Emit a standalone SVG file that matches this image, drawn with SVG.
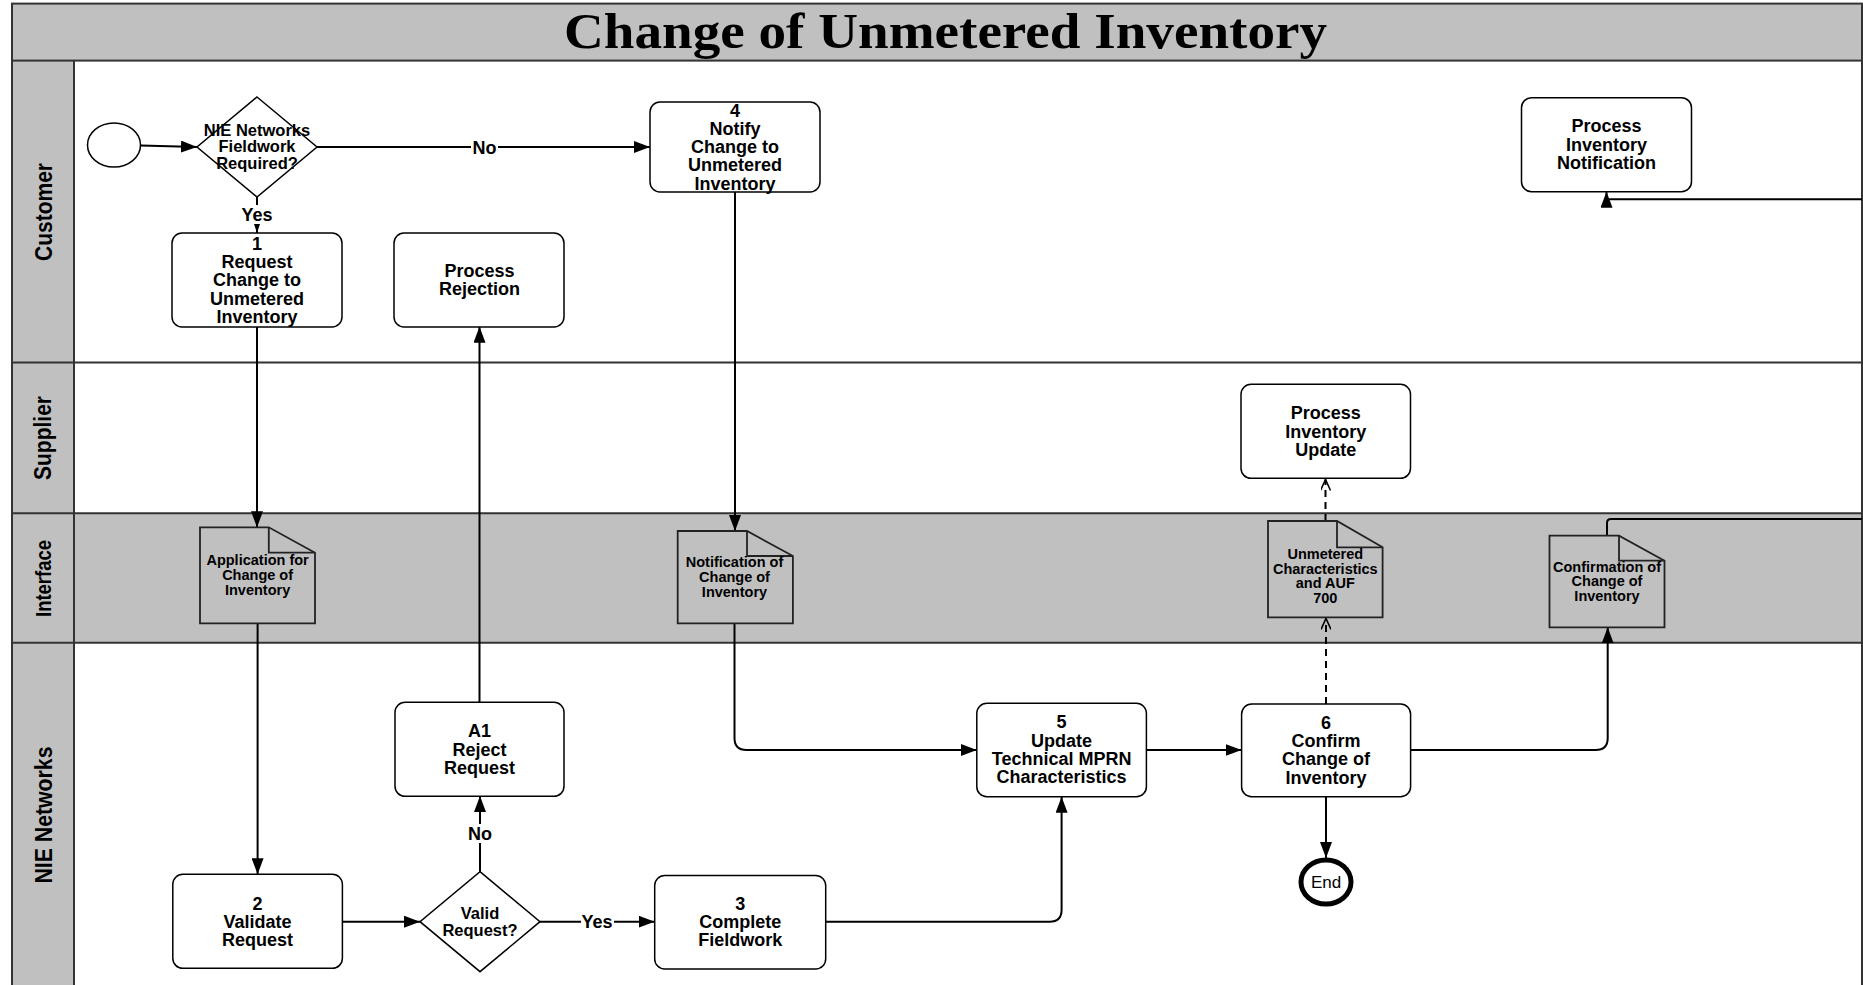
<svg xmlns="http://www.w3.org/2000/svg" width="1863" height="985" viewBox="0 0 1863 985">
<defs>
<style>
.lane{fill:#c0c0c0}
.border{fill:none;stroke:#333;stroke-width:2}
.box{fill:#fff;stroke:#000;stroke-width:1.5}
.doc{fill:#c0c0c0;stroke:#222;stroke-width:1.8;stroke-linejoin:miter}
.fold{fill:none;stroke:#222;stroke-width:1.8}
.t{font-family:"Liberation Sans",Arial,sans-serif;font-weight:bold;font-size:18px;text-anchor:middle;fill:#000}
.td{font-family:"Liberation Sans",Arial,sans-serif;font-weight:bold;font-size:16.5px;text-anchor:middle;fill:#000}
.tdoc{font-family:"Liberation Sans",Arial,sans-serif;font-weight:bold;font-size:14.5px;text-anchor:middle;fill:#000}
.tl{font-family:"Liberation Sans",Arial,sans-serif;font-weight:bold;font-size:24px;text-anchor:middle;fill:#000}
.title{font-family:"Liberation Serif","Times New Roman",serif;font-weight:bold;font-size:50px;text-anchor:middle;fill:#000}
.c{fill:none;stroke:#000;stroke-width:2}
.arr{marker-end:url(#ah)}
.dash{fill:none;stroke:#000;stroke-width:2;stroke-dasharray:7,5;marker-end:url(#oa)}
.lbg{fill:#fff}
</style>
<marker id="ah" markerUnits="userSpaceOnUse" viewBox="0 0 16 12" refX="16" refY="6" markerWidth="16" markerHeight="12" orient="auto">
<path d="M0,0 L16,6 L0,12 z" fill="#000"/>
</marker>
<marker id="ahs" markerUnits="userSpaceOnUse" viewBox="0 0 9 6" refX="9" refY="3" markerWidth="9" markerHeight="6" orient="auto">
<path d="M0,0 L9,3 L0,6 z" fill="#000"/>
</marker>
<marker id="oa" markerUnits="userSpaceOnUse" viewBox="0 0 12 10" refX="11" refY="5" markerWidth="12" markerHeight="10" orient="auto">
<path d="M0,0 L11,5 L0,10" fill="none" stroke="#000" stroke-width="1.6"/>
</marker>
</defs>

<g id="background">
<rect x="0" y="0" width="1863" height="985" fill="#fff"/>
<rect class="lane" x="12" y="3.6" width="1850" height="57"/>
<rect class="lane" x="12" y="60.6" width="62" height="930"/>
<rect class="lane" x="74" y="513.3" width="1788" height="129.5"/>
<rect class="border" x="12" y="3.6" width="1850" height="57"/>
<line class="border" x1="12" y1="60.6" x2="12" y2="990"/>
<line class="border" x1="1862" y1="60.6" x2="1862" y2="990"/>
<line class="border" x1="74" y1="60.6" x2="74" y2="990"/>
<line class="border" x1="12" y1="362.4" x2="1862" y2="362.4"/>
<line class="border" x1="12" y1="513.3" x2="1862" y2="513.3"/>
<line class="border" x1="12" y1="642.8" x2="1862" y2="642.8"/>
<text class="title" x="945.5" y="47.5" textLength="763" lengthAdjust="spacingAndGlyphs">Change of Unmetered Inventory</text>
</g>

<g id="lane-labels">
<text class="tl" transform="translate(52,212) rotate(-90)" textLength="98" lengthAdjust="spacingAndGlyphs">Customer</text>
<text class="tl" transform="translate(51,438) rotate(-90)" textLength="84" lengthAdjust="spacingAndGlyphs">Supplier</text>
<text class="tl" style="font-size:22px" transform="translate(51,578.5) rotate(-90)" textLength="77" lengthAdjust="spacingAndGlyphs">Interface</text>
<text class="tl" transform="translate(52,815) rotate(-90)" textLength="137" lengthAdjust="spacingAndGlyphs">NIE Networks</text>
</g>

<g id="connectors">
<path class="c arr" d="M140.8,145.5 L197,147"/>
<path class="c" d="M257,197 V233" marker-end="url(#ahs)"/>
<path class="c arr" d="M317,147 H650"/>
<path class="c arr" d="M257,326.7 V527.3"/>
<path class="c arr" d="M257.6,623.3 V874.3"/>
<path class="c arr" d="M342.4,921.7 H420"/>
<path class="c arr" d="M480,871.7 V796"/>
<path class="c arr" d="M540,921.7 H654.7"/>
<path class="c arr" d="M479.5,702.3 V326.7"/>
<path class="c arr" d="M735,191.7 V531"/>
<path class="c arr" d="M734.5,623.3 V738 Q734.5,750 746.5,750 H976.8"/>
<path class="c arr" d="M825.8,921.7 H1049.6 Q1061.6,921.7 1061.6,909.7 V796.7"/>
<path class="c arr" d="M1146.4,750 H1241.6"/>
<path class="c arr" d="M1326,796.7 V858"/>
<path class="dash" d="M1326,704 V618.5"/>
<path class="dash" d="M1325.5,521 V479.5"/>
<path class="c arr" d="M1410.4,750 H1595.7 Q1607.7,750 1607.7,738 V627.3"/>
<path class="c" d="M1607,535.7 V523 Q1607,519 1611,519 H1862"/>
<path class="c arr" d="M1862,199.3 H1606.5 V191.7"/>
<rect class="lbg" x="242" y="205" width="30" height="19"/>
<text class="t" x="257" y="221">Yes</text>
<rect class="lbg" x="471" y="138" width="27" height="19"/>
<text class="t" x="484.5" y="153.5">No</text>
<rect class="lbg" x="467" y="824" width="27" height="19"/>
<text class="t" x="480" y="839.5">No</text>
<rect class="lbg" x="581" y="912" width="33" height="19"/>
<text class="t" x="597" y="927.5">Yes</text>
</g>

<g id="start">
<ellipse cx="114" cy="145" rx="26.5" ry="22" fill="#fff" stroke="#000" stroke-width="1.5"/>
</g>

<g id="d-fieldwork">
<polygon class="box" points="257,97 317,147 257,197 197,147"/>
<text class="td"><tspan x="257" y="135.5">NIE Networks</tspan><tspan x="257" y="152">Fieldwork</tspan><tspan x="257" y="169">Required?</tspan></text>
</g>

<g id="n1">
<rect class="box" x="172" y="233" width="170" height="94" rx="10"/>
<text class="t"><tspan x="257" y="249.8">1</tspan><tspan x="257" y="268">Request</tspan><tspan x="257" y="286.3">Change to</tspan><tspan x="257" y="304.6">Unmetered</tspan><tspan x="257" y="323">Inventory</tspan></text>
</g>

<g id="n-process-rejection">
<rect class="box" x="394" y="233" width="170" height="94" rx="10"/>
<text class="t"><tspan x="479.5" y="276.5">Process</tspan><tspan x="479.5" y="295">Rejection</tspan></text>
</g>

<g id="n4">
<rect class="box" x="650" y="102" width="170" height="90" rx="10"/>
<text class="t"><tspan x="735" y="116.5">4</tspan><tspan x="735" y="134.5">Notify</tspan><tspan x="735" y="152.5">Change to</tspan><tspan x="735" y="171">Unmetered</tspan><tspan x="735" y="189.5">Inventory</tspan></text>
</g>

<g id="n-process-inventory-notification">
<rect class="box" x="1521.5" y="97.7" width="170" height="94" rx="10"/>
<text class="t"><tspan x="1606.5" y="132">Process</tspan><tspan x="1606.5" y="150.5">Inventory</tspan><tspan x="1606.5" y="169">Notification</tspan></text>
</g>

<g id="n-process-inventory-update">
<rect class="box" x="1241" y="384.3" width="169.5" height="94" rx="10"/>
<text class="t"><tspan x="1325.7" y="419">Process</tspan><tspan x="1325.7" y="437.5">Inventory</tspan><tspan x="1325.7" y="455.5">Update</tspan></text>
</g>

<g id="doc-application">
<path class="doc" d="M200,527.3 H268.8 L315,552.7 V623.3 H200 Z"/>
<path class="fold" d="M268.8,527.3 V552.7 H315"/>
<text class="tdoc"><tspan x="257.6" y="565">Application for</tspan><tspan x="257.6" y="580">Change of</tspan><tspan x="257.6" y="594.5">Inventory</tspan></text>
</g>

<g id="doc-notification">
<path class="doc" d="M677.7,531 H747 L792.9,556 V623.3 H677.7 Z"/>
<path class="fold" d="M747,531 V556 H792.9"/>
<text class="tdoc"><tspan x="734.5" y="566.7">Notification of</tspan><tspan x="734.5" y="581.7">Change of</tspan><tspan x="734.5" y="596.7">Inventory</tspan></text>
</g>

<g id="doc-unmetered">
<path class="doc" d="M1268,521 H1337 L1382.6,547.3 V617.3 H1268 Z"/>
<path class="fold" d="M1337,521 V547.3 H1382.6"/>
<text class="tdoc"><tspan x="1325.3" y="558.5">Unmetered</tspan><tspan x="1325.3" y="573.5">Characteristics</tspan><tspan x="1325.3" y="588">and AUF</tspan><tspan x="1325.3" y="602.7">700</tspan></text>
</g>

<g id="doc-confirmation">
<path class="doc" d="M1549.5,535.7 H1619 L1664.5,560.7 V627.3 H1549.5 Z"/>
<path class="fold" d="M1619,535.7 V560.7 H1664.5"/>
<text class="tdoc"><tspan x="1607" y="571.7">Confirmation of</tspan><tspan x="1607" y="586">Change of</tspan><tspan x="1607" y="601">Inventory</tspan></text>
</g>

<g id="nA1">
<rect class="box" x="395" y="702.3" width="169" height="94" rx="10"/>
<text class="t"><tspan x="479.5" y="737">A1</tspan><tspan x="479.5" y="755.5">Reject</tspan><tspan x="479.5" y="773.5">Request</tspan></text>
</g>

<g id="n2">
<rect class="box" x="172.8" y="874.3" width="169.6" height="94" rx="10"/>
<text class="t"><tspan x="257.6" y="909.5">2</tspan><tspan x="257.6" y="927.5">Validate</tspan><tspan x="257.6" y="945.5">Request</tspan></text>
</g>

<g id="d-valid">
<polygon class="box" points="480,871.7 540,921.7 480,971.7 420,921.7"/>
<text class="td"><tspan x="480" y="918.5">Valid</tspan><tspan x="480" y="935.7">Request?</tspan></text>
</g>

<g id="n3">
<rect class="box" x="654.7" y="875.5" width="171" height="93.5" rx="10"/>
<text class="t"><tspan x="740.2" y="909.5">3</tspan><tspan x="740.2" y="928">Complete</tspan><tspan x="740.2" y="945.5">Fieldwork</tspan></text>
</g>

<g id="n5">
<rect class="box" x="976.8" y="703.3" width="169.6" height="93.4" rx="10"/>
<text class="t"><tspan x="1061.6" y="728">5</tspan><tspan x="1061.6" y="747">Update</tspan><tspan x="1061.6" y="764.5">Technical MPRN</tspan><tspan x="1061.6" y="783">Characteristics</tspan></text>
</g>

<g id="n6">
<rect class="box" x="1241.6" y="704" width="169" height="92.7" rx="10"/>
<text class="t"><tspan x="1326" y="729">6</tspan><tspan x="1326" y="747">Confirm</tspan><tspan x="1326" y="765.3">Change of</tspan><tspan x="1326" y="783.5">Inventory</tspan></text>
</g>

<g id="end">
<ellipse cx="1326" cy="882" rx="25" ry="22" fill="#fff" stroke="#000" stroke-width="5"/>
<text x="1326" y="888" style="font-family:'Liberation Sans',Arial,sans-serif;font-size:17px;text-anchor:middle">End</text>
</g>
</svg>
